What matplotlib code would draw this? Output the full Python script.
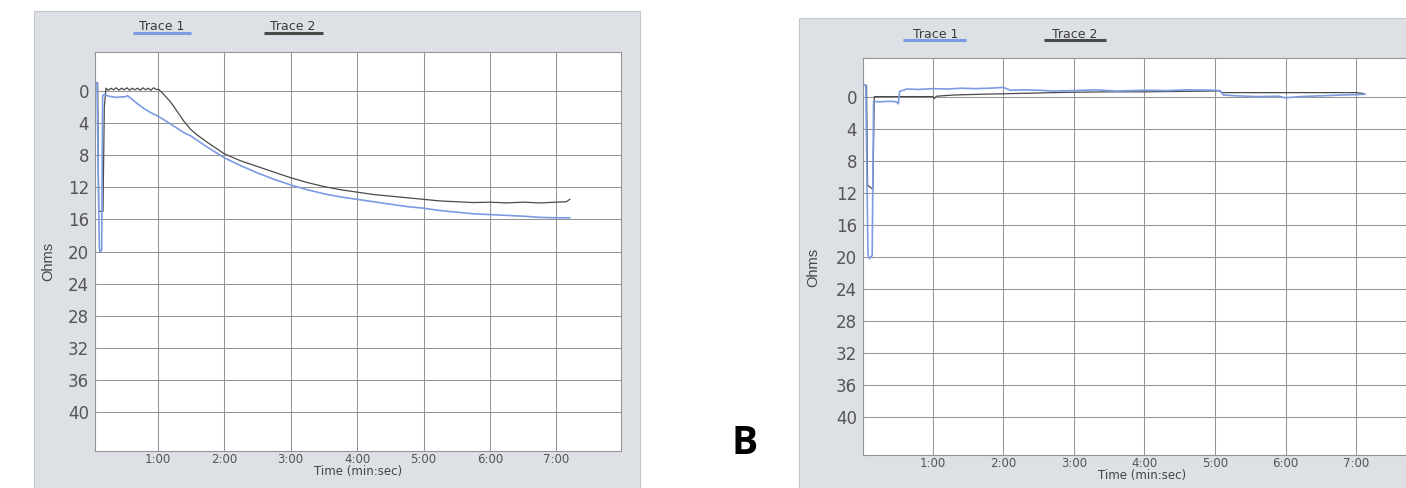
import matplotlib
matplotlib.use("Agg")
import matplotlib.pyplot as plt
from matplotlib.patches import Rectangle
from matplotlib.lines import Line2D

W, H = 1406, 488

# time in minutes, resistance in ohms (axis drawn inverted)
a_t1_time = [0.065, 0.09, 0.125, 0.135, 0.16, 0.175, 0.20, 0.25, 0.30, 0.35, 0.40, 0.45,
             0.50, 0.55, 0.60, 0.70, 0.80, 0.90, 1.00, 1.10, 1.25, 1.40, 1.50, 1.75,
             2.00, 2.25, 2.50, 2.75, 3.00, 3.25, 3.50, 3.75, 4.00, 4.25, 4.50, 4.75,
             5.00, 5.25, 5.50, 5.75, 6.00, 6.25, 6.50, 6.75, 7.00, 7.20]
a_t1_ohms = [-1.1, -1.0, 19.5, 20.1, 19.8, 0.6, 0.4, 0.6, 0.7, 0.75, 0.8, 0.7,
             0.75, 0.6, 0.9, 1.6, 2.2, 2.7, 3.1, 3.6, 4.4, 5.2, 5.6, 7.0,
             8.3, 9.3, 10.2, 11.0, 11.7, 12.3, 12.8, 13.2, 13.5, 13.8, 14.1, 14.4,
             14.6, 14.9, 15.1, 15.3, 15.4, 15.5, 15.6, 15.75, 15.8, 15.8]

a_t2_time = [0.065, 0.10, 0.115, 0.18, 0.20, 0.225, 0.26, 0.30, 0.34, 0.38, 0.42, 0.46,
             0.50, 0.54, 0.58, 0.62, 0.66, 0.70, 0.74, 0.78, 0.82, 0.86, 0.90, 0.94,
             0.98, 1.02, 1.08, 1.20, 1.30, 1.40, 1.50, 1.60, 1.75, 2.00, 2.25, 2.50,
             2.75, 3.00, 3.25, 3.50, 3.75, 4.00, 4.25, 4.50, 4.75, 5.00, 5.25, 5.50,
             5.75, 6.00, 6.25, 6.50, 6.75, 7.00, 7.15, 7.20]
a_t2_ohms = [-1.1, -1.0, 15.0, 15.0, 2.0, -0.35, -0.1, -0.35, -0.15, -0.4, -0.1, -0.35,
             -0.15, -0.4, -0.1, -0.35, -0.15, -0.35, -0.1, -0.4, -0.15, -0.35, -0.1, -0.4,
             -0.2, -0.2, 0.3, 1.4, 2.6, 3.8, 4.8, 5.5, 6.4, 7.8, 8.7, 9.4,
             10.1, 10.8, 11.4, 11.9, 12.3, 12.6, 12.9, 13.1, 13.3, 13.5, 13.7, 13.8,
             13.9, 13.85, 13.95, 13.85, 13.95, 13.85, 13.8, 13.5]

b_t1_time = [0.015, 0.05, 0.08, 0.10, 0.14, 0.16, 0.25, 0.35, 0.45, 0.49, 0.51, 0.53,
             0.63, 0.80, 1.00, 1.20, 1.40, 1.60, 1.80, 2.00, 2.10, 2.30, 2.50, 2.70,
             3.00, 3.30, 3.60, 4.00, 4.30, 4.60, 5.00, 5.07, 5.12, 5.30, 5.60, 5.90,
             6.00, 6.20, 6.50, 6.80, 7.00, 7.13]
b_t1_ohms = [-1.6, -1.5, 19.6, 20.2, 19.8, 0.5, 0.55, 0.5, 0.5, 0.6, 0.8, -0.75,
             -1.05, -1.0, -1.1, -1.05, -1.15, -1.1, -1.15, -1.25, -0.9, -0.95, -0.9, -0.8,
             -0.85, -0.95, -0.8, -0.9, -0.85, -0.95, -0.9, -0.85, -0.3, -0.2, -0.1, -0.15,
             0.05, -0.1, -0.2, -0.3, -0.35, -0.4]

b_t2_time = [0.015, 0.06, 0.075, 0.15, 0.17, 0.30, 0.60, 1.00, 1.02, 1.05, 1.30, 1.50,
             1.70, 2.00, 2.20, 2.50, 2.70, 3.00, 3.50, 4.00, 4.50, 5.00, 5.05, 5.10,
             5.50, 6.00, 6.50, 7.00, 7.10]
b_t2_ohms = [-1.6, -1.5, 11.0, 11.5, -0.1, -0.1, -0.1, -0.1, 0.15, -0.15, -0.3, -0.35,
             -0.4, -0.45, -0.5, -0.55, -0.6, -0.65, -0.7, -0.7, -0.75, -0.8, -0.85, -0.6,
             -0.6, -0.6, -0.6, -0.6, -0.5]

x_ticks = [1, 2, 3, 4, 5, 6, 7]
x_labels = ["1:00", "2:00", "3:00", "4:00", "5:00", "6:00", "7:00"]
y_ticks = [0, 4, 8, 12, 16, 20, 24, 28, 32, 36, 40]

BLUE = "#7b9be3"
DARK = "#4a4a4a"
PANEL = "#dde0e5"
GRID = "#959595"
TXT = "#555555"


def fx(px):
    return px / W


def fy(py):
    return 1 - py / H


def make_panel(fig, box, ax_box, xlim, t1, t2, legend, xlab_y, ylab_x):
    # gray frame behind the chart
    x0, y0, x1, y1 = box
    fig.add_artist(Rectangle((fx(x0), fy(y1)), fx(x1) - fx(x0), fy(y0) - fy(y1),
                             transform=fig.transFigure, facecolor=PANEL,
                             edgecolor="#c4c7cc", lw=0.8, zorder=0))
    l, t, r, b = ax_box
    ax = fig.add_axes([fx(l), fy(b), fx(r) - fx(l), fy(t) - fy(b)])
    ax.set_facecolor("white")
    ax.plot(t2[0], t2[1], color=DARK, lw=0.9, zorder=3)
    ax.plot(t1[0], t1[1], color=BLUE, lw=1.2, zorder=4)
    ax.set_xlim(*xlim)
    ax.set_ylim(44.8, -4.9)
    ax.set_xticks(x_ticks)
    ax.set_xticklabels(x_labels)
    ax.set_yticks(y_ticks)
    ax.tick_params(axis="x", length=0, pad=1.5, labelsize=8.5, labelcolor=TXT)
    ax.tick_params(axis="y", length=0, pad=4.3, labelsize=12, labelcolor=TXT)
    ax.grid(True, color=GRID, lw=0.75)
    for s in ax.spines.values():
        s.set_color(GRID)
        s.set_linewidth(0.8)
    ax.set_xlabel("Time (min:sec)", fontsize=8.5, color="#444444")
    ax.xaxis.set_label_coords(0.5, -(xlab_y - b) / (b - t))
    ax.xaxis.label.set_va("center")
    ax.set_ylabel("Ohms", fontsize=10.5, color="#444444", family="Liberation Sans")
    ax.yaxis.set_label_coords((ylab_x - l) / (r - l), 0.473)
    ax.yaxis.label.set_va("center")

    # legend: underlined labels
    for name, cx, cy, x_a, x_b, col in legend:
        fig.text(fx(cx), fy(cy), name, ha="center", va="center",
                 fontsize=9, color="#3a3a3a")
        fig.add_artist(Line2D([fx(x_a), fx(x_b)], [fy(cy + 5.5), fy(cy + 5.5)],
                              transform=fig.transFigure, color=col, lw=2.2,
                              solid_capstyle="butt"))
    return ax


fig = plt.figure(figsize=(W / 100, H / 100), dpi=100)
fig.patch.set_facecolor("white")

make_panel(fig, (34, 11, 640, 489), (95, 51.7, 621, 450.5), (0.06, 7.97),
           (a_t1_time, a_t1_ohms), (a_t2_time, a_t2_ohms),
           [("Trace 1", 162, 27, 132.6, 190.7, BLUE),
            ("Trace 2", 293, 27, 264, 323, DARK)],
           471, 48)

make_panel(fig, (799, 18, 1410, 489), (863, 58.3, 1421, 455), (0.01, 7.92),
           (b_t1_time, b_t1_ohms), (b_t2_time, b_t2_ohms),
           [("Trace 1", 935.5, 34.3, 902.8, 966, BLUE),
            ("Trace 2", 1075, 34.3, 1044, 1105.5, DARK)],
           475, 813.5)

fig.text(fx(745), fy(444), "B", ha="center", va="center", fontsize=28,
         fontweight="bold", family="Open Sans", color="black")

fig.savefig("out.png", dpi=100)
